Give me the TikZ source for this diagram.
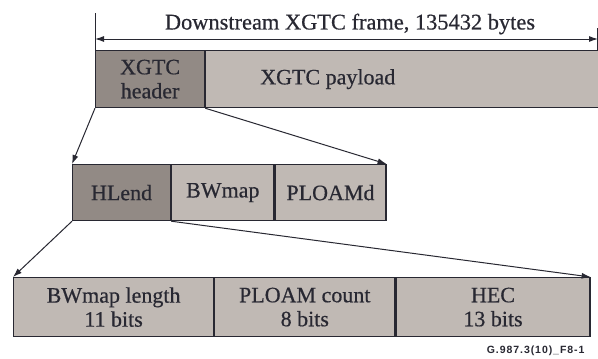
\documentclass[tikz,border=0pt]{standalone}
\usepackage{fontspec}
\setmainfont[FakeBold=0.5]{Liberation Serif}
\newfontfamily\codefont[LetterSpace=9]{Liberation Sans}
\usetikzlibrary{arrows.meta}
\definecolor{darkfill}{RGB}{146,138,133}
\definecolor{lightfill}{RGB}{192,185,180}
\definecolor{inkc}{RGB}{40,40,50}
\begin{document}
\begin{tikzpicture}[x=1pt,y=-1pt,
 field/.style={draw=inkc, line width=1.2pt, anchor=north west, inner sep=0pt, align=center, text=inkc, font=\fontsize{22}{24}\selectfont},
 darkfield/.style={field, fill=darkfill},
 lightfield/.style={field, fill=lightfill},
 zoomarrow/.style={draw=inkc, line width=1pt, -{Latex[length=9pt,width=6pt]}},
 dimline/.style={draw=inkc, line width=1pt},
]
\useasboundingbox (0,0) rectangle (598,359);
\fill[white] (0,0) rectangle (598,359);
% top row
\node[darkfield, minimum width=109pt, minimum height=57pt] (hdr) at (95,50) {XGTC\\header};
\node[lightfield, minimum width=400pt, minimum height=57pt] (pay) at (hdr.north east) {\hspace*{-156pt}XGTC payload};
% middle row
\node[darkfield, minimum width=98pt, minimum height=56pt] (hl) at (72,164) {HLend};
\node[lightfield, minimum width=102pt, minimum height=56pt] (bw) at (hl.north east) {BWmap};
\node[lightfield, minimum width=111pt, minimum height=56pt] (pl) at (bw.north east) {PLOAMd};
% bottom row
\node[lightfield, minimum width=200pt, minimum height=59pt] (bl) at (13,277) {BWmap length\\11 bits};
\node[lightfield, minimum width=180pt, minimum height=59pt] (pc) at (bl.north east) {PLOAM count\\8 bits};
\node[lightfield, minimum width=194pt, minimum height=59pt] (hec) at (pc.north east) {HEC\\13 bits};
% dimension line
\coordinate (dl) at (95,39);
\coordinate (dr) at (598,39);
\coordinate (tl) at (95,13);
\coordinate (tr) at (597,28);
\coordinate (tr2) at (597,50);
\draw[dimline] (tl) -- (hdr.north west);
\draw[dimline] (tr) -- (tr2);
\draw[dimline, {Latex[length=9pt,width=6pt]}-{Latex[length=9pt,width=6pt]}] (dl) -- (dr);
\node[text=inkc, font=\fontsize{22.4}{24}\selectfont] (flab) at (350,24) {Downstream XGTC frame, 135432 bytes};
% zoom arrows
\draw[zoomarrow] (hdr.south west) -- (hl.north west);
\draw[zoomarrow] (hdr.south east) -- (pl.north east);
\draw[zoomarrow] (hl.south west) -- (bl.north west);
\draw[zoomarrow] (hl.south east) -- (hec.north east);
% figure id
\node[anchor=east, text=inkc, font=\codefont\bfseries\fontsize{10.5}{12}\selectfont] (fid) at (588,351) {G.987.3(10)\_F8-1};
\end{tikzpicture}
\end{document}
